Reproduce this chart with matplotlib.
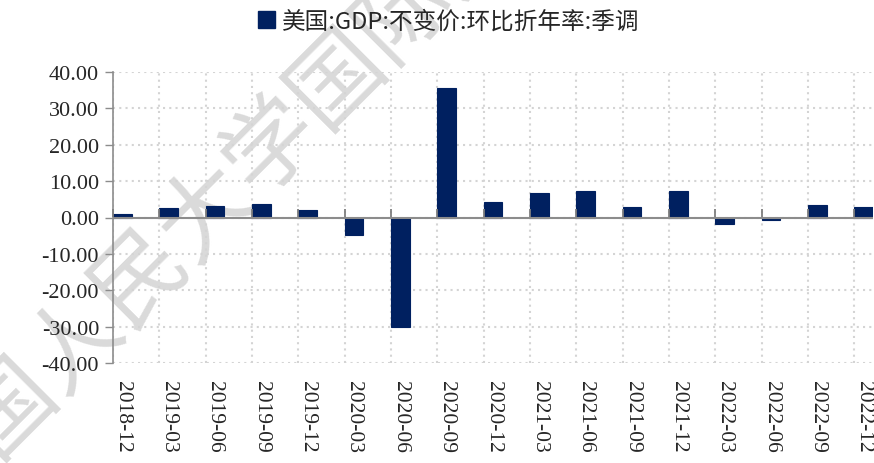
import numpy as np
import matplotlib
matplotlib.use('Agg')
import matplotlib.pyplot as plt
from matplotlib.patches import Patch

quarters = ['2018-12', '2019-03', '2019-06', '2019-09', '2019-12',
            '2020-03', '2020-06', '2020-09', '2020-12', '2021-03',
            '2021-06', '2021-09', '2021-12', '2022-03', '2022-06',
            '2022-09', '2022-12']
gdp_qoq = [1.0, 2.5, 3.1, 3.8, 2.1, -4.8, -30.0, 35.5, 4.3, 6.6,
           7.2, 2.9, 7.2, -1.7, -0.8, 3.4, 3.0]
series_name = '美国:GDP:不变价:环比折年率:季调'
watermark = '中国人民大学国际货币研究所'

navy = '#002060'
axis_gray = '#8c8c8c'
grid_gray = '#d4d4d4'
num_font = ['Liberation Serif', 'DejaVu Serif']

plt.rcParams['font.family'] = ['Noto Sans CJK SC', 'DejaVu Sans']

fig = plt.figure(figsize=(8.74, 4.64), dpi=100)
ax = fig.add_axes([113 / 874, 1 - 364 / 464, 760 / 874, 291 / 464])
ax.patch.set_alpha(0)

# watermark behind everything
fig.text(337 / 874, 1 - 77 / 464, watermark, rotation=45, fontsize=67,
         color='#dadada', ha='center', va='center', rotation_mode='anchor',
         zorder=-5)

x = np.arange(len(quarters))
ax.bar(x, gdp_qoq, width=0.4, align='edge', color=navy, edgecolor=navy,
       linewidth=0.8, zorder=3)
ax.axhline(0, color=axis_gray, linewidth=1.5, zorder=4)

ax.set_xlim(0, len(quarters) - 0.6)
ax.set_ylim(-40, 40)
ax.set_yticks(np.arange(-40, 41, 10))
ax.set_yticklabels([f'{v:.2f}' for v in np.arange(-40, 41, 10)],
                   family=num_font, fontsize=16, color='#262626')
ax.tick_params(axis='y', direction='out', length=6, width=1, color=axis_gray, pad=4)

ax.set_xticks(x + 0.2)
ax.set_xticklabels(quarters, rotation=270, family=num_font, fontsize=15.5,
                   color='#262626')
ax.tick_params(axis='x', length=0, pad=12)
ax.set_xticks(x, minor=True)
ax.tick_params(axis='x', which='minor', length=0)

ax.grid(True, axis='y', which='major', linestyle=(0, (1, 2)), color=grid_gray, linewidth=1.5)
ax.grid(True, axis='x', which='minor', linestyle=(0, (1, 2)), color=grid_gray, linewidth=1.5)
ax.set_axisbelow(True)

for side in ['top', 'right', 'bottom']:
    ax.spines[side].set_visible(False)
ax.spines['left'].set_color(axis_gray)
ax.spines['left'].set_linewidth(1.2)

# category ticks on the zero line
zero_ax = ax.secondary_xaxis(0.5)
zero_ax.set_zorder(5)
zero_ax.set_xticks(x)
zero_ax.set_xticklabels([])
zero_ax.tick_params(axis='x', which='major', direction='out', length=6, width=1.3,
                    color='#7f7f7f')
for sp in zero_ax.spines.values():
    sp.set_visible(False)

handle = Patch(facecolor=navy, edgecolor=navy)
fig.legend([handle], [series_name], loc='center', bbox_to_anchor=(449 / 874, 1 - 22 / 464),
           frameon=False, fontsize=17, handlelength=0.7, handleheight=0.7,
           handletextpad=0.3, labelcolor='#262626')

fig.savefig('out.png', dpi=100)
